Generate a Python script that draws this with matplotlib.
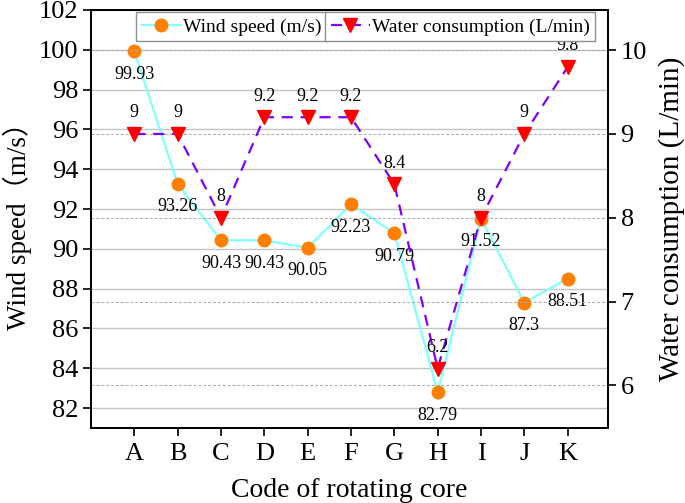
import matplotlib
matplotlib.use("Agg")
import matplotlib.pyplot as plt

categories = ["A", "B", "C", "D", "E", "F", "G", "H", "I", "J", "K"]
wind_speed = [99.93, 93.26, 90.43, 90.43, 90.05, 92.23, 90.79, 82.79, 91.52, 87.3, 88.51]
water = [9, 9, 8, 9.2, 9.2, 9.2, 8.4, 6.2, 8, 9, 9.8]
left_ticks = [82, 84, 86, 88, 90, 92, 94, 96, 98, 100, 102]
right_ticks = [6, 7, 8, 9, 10]

plt.rcParams['font.family'] = ['Liberation Serif', 'Noto Sans CJK SC']

W, H = 685, 503
fig = plt.figure(figsize=(W/100, H/100), dpi=100)
ax = fig.add_axes([91/W, 1-428/H, (608-91)/W, (428-10)/H])
ax2 = ax.twinx()

x = list(range(len(categories)))

ax.set_xlim(-1.0, 10.93)
ax.set_ylim(81, 102)
ax2.set_ylim(5.49, 10.48)

for t in left_ticks:
    ax.axhline(t, color='#c4c4c4', lw=1.0, zorder=0)
for t in right_ticks:
    ax2.axhline(t, color='#a8a8a8', lw=0.7, ls=(0, (3, 2)), zorder=0)

l1, = ax.plot(x, wind_speed, color='#80FFFF', lw=1.6, marker='o', markersize=9,
              markerfacecolor='#FF8000', markeredgecolor='#FF8000', zorder=3,
              label='Wind speed (m/s)')
l2, = ax2.plot(x, water, color='#8000FF', lw=1.6, ls=(0, (5, 3.5)), marker='v', markersize=10,
               markerfacecolor='#FF0000', markeredgecolor='#FF0000', zorder=3,
               label='Water consumption (L/min)')

for xi, v in zip(x, wind_speed):
    ax.annotate(f"{v:g}", (xi, v), xytext=(0, -23), textcoords='offset pixels',
                ha='center', va='center', fontsize=13)
for xi, v in zip(x, water):
    ax2.annotate(f"{v:g}", (xi, v), xytext=(0, 21), textcoords='offset pixels',
                 ha='center', va='center', fontsize=13)

ax.set_xticks(x)
ax.set_xticklabels(categories)
ax.set_yticks(left_ticks)
ax2.set_yticks(right_ticks)

for a in (ax, ax2):
    a.tick_params(direction='out', length=6, width=1.2, labelsize=19, pad=3)
    for s in a.spines.values():
        s.set_linewidth(1.3)
ax.tick_params(axis='x', pad=5)

ax.set_xlabel("Code of rotating core", fontsize=20, labelpad=9)
ax.set_ylabel("Wind speed（m/s）", fontsize=19.5, labelpad=5)
ax2.set_ylabel("Water consumption (L/min)", fontsize=21, labelpad=8)

common = dict(bbox_transform=fig.transFigure, frameon=True, fancybox=False,
              edgecolor='#909090', framealpha=1, borderpad=0.3, borderaxespad=0,
              handletextpad=0.1, fontsize=14, handlelength=2.0)
leg1 = fig.legend(handles=[l1], loc='upper left', bbox_to_anchor=(136/W, 1-12/H), **common)
leg2 = fig.legend(handles=[l2], loc='upper left', bbox_to_anchor=(325/W, 1-12/H), **common)
for lg in (leg1, leg2):
    lg.get_frame().set_linewidth(1.0)

fig.savefig("out.png", dpi=100)
